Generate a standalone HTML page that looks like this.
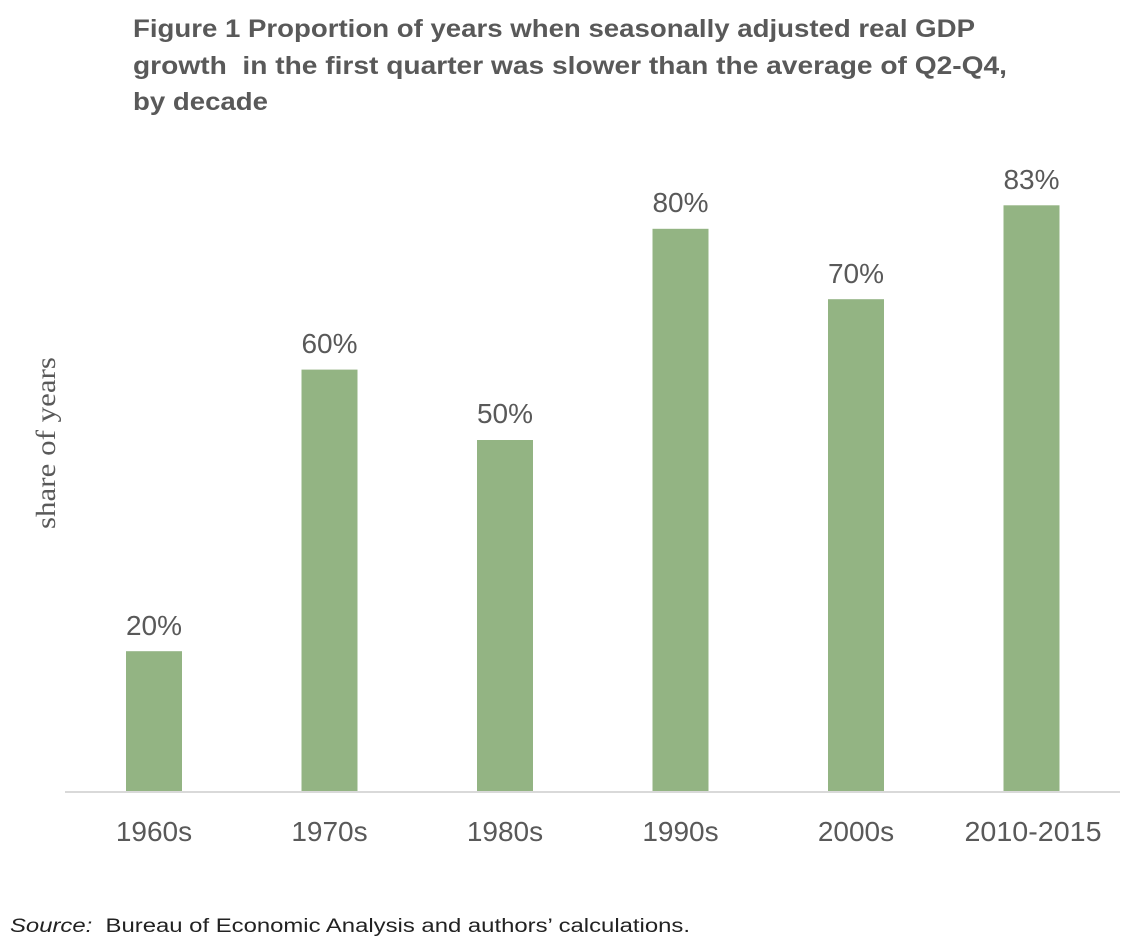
<!DOCTYPE html>
<html><head><meta charset="utf-8"><style>
html,body{margin:0;padding:0;background:#fff;}
svg{display:block;}
</style></head><body>
<svg width="1132" height="950" viewBox="0 0 1132 950" xmlns="http://www.w3.org/2000/svg">
<rect width="1132" height="950" fill="#fff"/>
<g font-family="'Liberation Sans', sans-serif" font-weight="bold" fill="#595959" font-size="25">
<text x="133" y="37" textLength="842" lengthAdjust="spacingAndGlyphs">Figure 1 Proportion of years when seasonally adjusted real GDP</text>
<text x="133" y="74" textLength="874" lengthAdjust="spacingAndGlyphs" xml:space="preserve">growth  in the first quarter was slower than the average of Q2-Q4,</text>
<text x="133" y="110" textLength="135" lengthAdjust="spacingAndGlyphs">by decade</text>
</g>
<text transform="translate(55,443) rotate(-90)" text-anchor="middle" font-family="'Liberation Serif', serif" font-size="27" fill="#595959" textLength="172" lengthAdjust="spacingAndGlyphs">share of years</text>
<g fill="#93b483">
<rect x="126" y="651.2" width="56" height="140.8"/>
<rect x="301.5" y="369.6" width="56" height="422.4"/>
<rect x="477" y="440" width="56" height="352"/>
<rect x="652.5" y="228.8" width="56" height="563.2"/>
<rect x="828" y="299.2" width="56" height="492.8"/>
<rect x="1003.5" y="205.3" width="56" height="586.7"/>
</g>
<line x1="65" y1="792" x2="1120" y2="792" stroke="#d9d9d9" stroke-width="2"/>
<g font-family="'Liberation Sans', sans-serif" font-size="28" fill="#595959" text-anchor="middle">
<text x="154" y="635">20%</text>
<text x="329.5" y="353">60%</text>
<text x="505" y="423">50%</text>
<text x="680.5" y="212">80%</text>
<text x="856" y="283">70%</text>
<text x="1031.5" y="189">83%</text>
<text x="154" y="841">1960s</text>
<text x="329.5" y="841">1970s</text>
<text x="505" y="841">1980s</text>
<text x="680.5" y="841">1990s</text>
<text x="856" y="841">2000s</text>
<text x="1033" y="841" textLength="137" lengthAdjust="spacingAndGlyphs">2010-2015</text>
</g>
<text x="10" y="932" font-family="'Liberation Sans', sans-serif" font-size="19" fill="#222" textLength="680" lengthAdjust="spacingAndGlyphs" xml:space="preserve"><tspan font-style="italic">Source:</tspan>  Bureau of Economic Analysis and authors’ calculations.</text>
</svg>
</body></html>
